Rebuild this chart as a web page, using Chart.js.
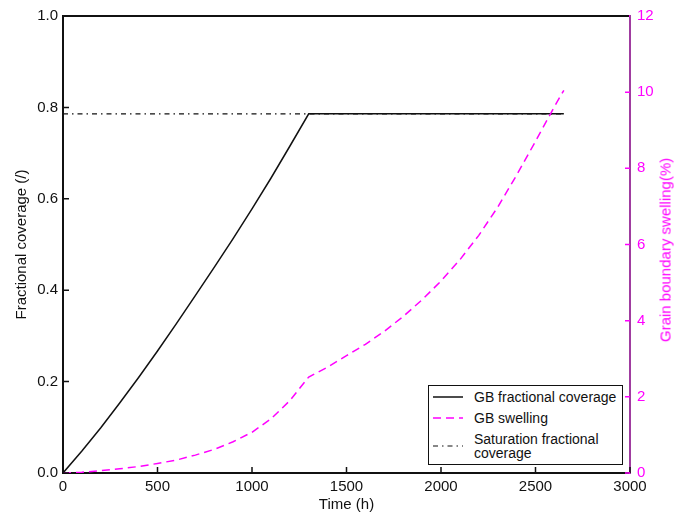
<!DOCTYPE html>
<html>
<head>
<meta charset="utf-8">
<script src="https://cdn.jsdelivr.net/npm/chart.js@4.4.0/dist/chart.umd.min.js"></script>
<style>
  body { margin: 0; background: #fff; }
  #wrap { position: relative; width: 691px; height: 520px; }
  #legend {
    position: absolute; left: 428px; top: 385px; width: 193px; height: 78px;
    border: 1.5px solid #111; background: #fff;
    font-family: "Liberation Sans", Arial, sans-serif; font-size: 14px; color: #111;
  }
  .row { position: absolute; left: 0; display: flex; align-items: center; }
  .row svg { margin-left: 4px; margin-right: 11px; flex: none; }
  .row span { line-height: 14px; }
  #rtitle {
    position: absolute; left: 665px; top: 250px; white-space: nowrap;
    transform: translate(-50%, -50%) rotate(-90deg);
    font-family: "Liberation Sans", Arial, sans-serif; font-size: 15px; color: #ff00ff;
  }
</style>
</head>
<body>
<div id="wrap">
  <canvas id="chart" width="691" height="520"></canvas>
  <div id="legend"></div>
  <div id="rtitle">Grain boundary swelling(%)</div>
</div>
<script>
// time (h)
const times = [0, 100, 200, 300, 400, 500, 600, 700, 800, 900, 1000, 1100, 1200, 1300,
  1400, 1500, 1600, 1700, 1800, 1900, 2000, 2100, 2200, 2300, 2400, 2500, 2600, 2650];
// GB fractional coverage (/)
const coverage = [0, 0.048, 0.099, 0.153, 0.209, 0.267, 0.327, 0.388, 0.45, 0.513, 0.578, 0.645, 0.715, 0.786,
  0.786, 0.786, 0.786, 0.786, 0.786, 0.786, 0.786, 0.786, 0.786, 0.786, 0.786, 0.786, 0.786, 0.786];
// GB swelling (%)
const swelling = [0, 0.02, 0.06, 0.11, 0.17, 0.25, 0.34, 0.47, 0.62, 0.82, 1.07, 1.42, 1.9, 2.52,
  2.78, 3.08, 3.38, 3.72, 4.11, 4.55, 5.04, 5.6, 6.24, 6.98, 7.82, 8.71, 9.62, 10.05];
// saturation fractional coverage
const satTimes = [0, 2650];
const saturation = [0.786, 0.786];

const xTicks = [0, 500, 1000, 1500, 2000, 2500, 3000];
const leftTicks = [0, 0.2, 0.4, 0.6, 0.8, 1.0];
const rightTicks = [0, 2, 4, 6, 8, 10, 12];

const MAGENTA = '#ff00ff';
const FONT = '"Liberation Sans", Arial, sans-serif';

const toXY = (xs, ys) => xs.map((x, i) => ({ x: x, y: ys[i] }));

// top edge of the box + inward tick marks
const frame = {
  id: 'frame',
  afterDraw(chart) {
    const a = chart.chartArea, c = chart.ctx;
    const sx = chart.scales.x, sy = chart.scales.y, sy2 = chart.scales.y2;
    c.save();
    c.lineWidth = 1.5;
    c.strokeStyle = '#111';
    c.beginPath();
    sx.ticks.forEach(t => {
      const px = sx.getPixelForValue(t.value);
      c.moveTo(px, a.bottom); c.lineTo(px, a.bottom - 6);
    });
    sy.ticks.forEach(t => {
      const py = sy.getPixelForValue(t.value);
      c.moveTo(a.left, py); c.lineTo(a.left + 6, py);
    });
    c.stroke();
    c.strokeStyle = MAGENTA;
    c.beginPath();
    sy2.ticks.forEach(t => {
      const py = sy2.getPixelForValue(t.value);
      c.moveTo(a.right, py); c.lineTo(a.right - 5, py);
    });
    c.stroke();
    c.strokeStyle = '#111';
    c.lineWidth = 2;
    c.beginPath();
    c.moveTo(a.left - 1, a.top);
    c.lineTo(a.right - 1, a.top);
    c.stroke();
    c.restore();
  }
};

const ctx = document.getElementById('chart').getContext('2d');
const chart = new Chart(ctx, {
  type: 'line',
  data: {
    datasets: [
      {
        label: 'GB fractional coverage',
        data: toXY(times, coverage),
        borderColor: '#111', borderWidth: 1.5, yAxisID: 'y', order: 2
      },
      {
        label: 'GB swelling',
        data: toXY(times, swelling),
        borderColor: MAGENTA, borderWidth: 1.5, borderDash: [8, 5], yAxisID: 'y2', order: 1
      },
      {
        label: 'Saturation fractional coverage',
        legendText: ['Saturation fractional', 'coverage'],
        data: toXY(satTimes, saturation),
        borderColor: '#111', borderWidth: 1.2, borderDash: [5, 4, 1.5, 4], yAxisID: 'y', order: 3
      }
    ]
  },
  options: {
    responsive: false,
    animation: false,
    elements: { point: { radius: 0 }, line: { tension: 0 } },
    layout: { padding: { top: 15, left: 0, right: 0, bottom: 0 } },
    plugins: { legend: { display: false }, tooltip: { enabled: false } },
    scales: {
      x: {
        type: 'linear', min: 0, max: 3000,
        afterBuildTicks: s => { s.ticks = xTicks.map(v => ({ value: v })); },
        afterFit: s => { s.height = 47; },
        border: { color: '#111', width: 2 },
        grid: { drawOnChartArea: false, drawTicks: false },
        ticks: { color: '#111', padding: 5, font: { family: FONT, size: 15 }, callback: v => String(v) },
        title: { display: true, text: 'Time (h)', color: '#111', font: { family: FONT, size: 15 }, padding: { top: 0, bottom: 6 } }
      },
      y: {
        type: 'linear', position: 'left', min: 0, max: 1,
        afterBuildTicks: s => { s.ticks = leftTicks.map(v => ({ value: v })); },
        afterFit: s => { s.width = 63; },
        border: { color: '#111', width: 2 },
        grid: { drawOnChartArea: false, drawTicks: false },
        ticks: { color: '#111', padding: 5, font: { family: FONT, size: 15 }, callback: v => v.toFixed(1) },
        title: { display: true, text: 'Fractional coverage (/)', color: '#111', font: { family: FONT, size: 15 }, padding: { top: 13, bottom: 0 } }
      },
      y2: {
        type: 'linear', position: 'right', min: 0, max: 12,
        afterBuildTicks: s => { s.ticks = rightTicks.map(v => ({ value: v })); },
        afterFit: s => { s.width = 61; },
        border: { color: '#a03ca0', width: 2 },
        grid: { drawOnChartArea: false, drawTicks: false },
        ticks: { color: MAGENTA, padding: 7, font: { family: FONT, size: 15 }, callback: v => String(v) },
        title: { display: false }
      }
    }
  },
  plugins: [frame]
});

// legend inside the plot, built from the datasets
const legend = document.getElementById('legend');
const rowTops = [4, 25, 46];
chart.data.datasets.forEach((ds, i) => {
  const row = document.createElement('div');
  row.className = 'row';
  row.style.top = rowTops[i] + 'px';
  const dash = ds.borderDash ? ds.borderDash.join(',') : 'none';
  const lines = ds.legendText || [ds.label];
  const h = lines.length * 14;
  row.innerHTML =
    '<svg width="30" height="' + h + '"><line x1="0" y1="' + (h / 2) + '" x2="30" y2="' + (h / 2) +
    '" stroke="' + ds.borderColor + '" stroke-width="' + ds.borderWidth + '" stroke-dasharray="' + dash + '"/></svg>' +
    '<span>' + lines.join('<br>') + '</span>';
  legend.appendChild(row);
});
</script>
</body>
</html>
